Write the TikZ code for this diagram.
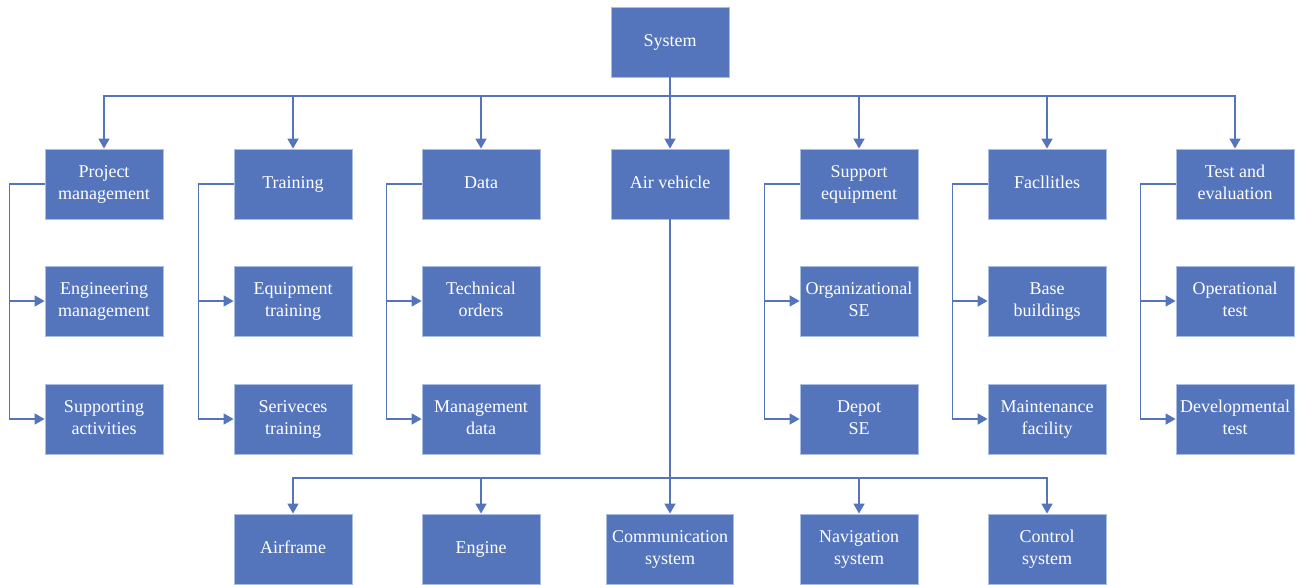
\documentclass[tikz,border=0pt]{standalone}
\usepackage{fontspec}
\setmainfont{Liberation Serif}
\usetikzlibrary{arrows.meta}
\definecolor{boxblue}{RGB}{84,117,187}
\definecolor{boxedge}{RGB}{170,190,225}
\newcommand\twolines[2]{\strut #1\\\strut #2}
\tikzset{
  wbox/.style={rectangle, fill=boxblue, draw=boxedge, line width=0.8pt,
    minimum width=118pt, minimum height=70pt, inner sep=1pt, text=white,
    font=\fontsize{18}{22}\selectfont, align=center},
  conn/.style={draw=boxblue, line width=1.6pt},
  arr/.style={conn, -{Triangle[length=10pt,width=11pt]}}
}
\begin{document}
\begin{tikzpicture}[x=1pt,y=-1pt]
\useasboundingbox (0,0) rectangle (1297,584);
\node[wbox] (sys) at (670,42) {\strut System};
% level 1
\node[wbox] (pm) at (104,184) {\twolines{Project}{management}};
\node[wbox] (tr) at (293,184) {\strut Training};
\node[wbox] (da) at (481,184) {\strut Data};
\node[wbox] (av) at (670,184) {\strut Air vehicle};
\node[wbox] (se) at (859,184) {\twolines{Support}{equipment}};
\node[wbox] (fa) at (1047,184) {\strut Facllitles};
\node[wbox] (te) at (1235,184) {\twolines{Test and}{evaluation}};
% level 2
\node[wbox] (em) at (104,301) {\twolines{Engineering}{management}};
\node[wbox] (et) at (293,301) {\twolines{Equipment}{training}};
\node[wbox] (to) at (481,301) {\twolines{Technical}{orders}};
\node[wbox] (ose) at (859,301) {\twolines{Organizational}{SE}};
\node[wbox] (bb) at (1047,301) {\twolines{Base}{buildings}};
\node[wbox] (ot) at (1235,301) {\twolines{Operational}{test}};
% level 3
\node[wbox] (sa) at (104,419) {\twolines{Supporting}{activities}};
\node[wbox] (st) at (293,419) {\twolines{Seriveces}{training}};
\node[wbox] (md) at (481,419) {\twolines{Management}{data}};
\node[wbox] (dse) at (859,419) {\twolines{Depot}{SE}};
\node[wbox] (mf) at (1047,419) {\twolines{Maintenance}{facility}};
\node[wbox] (dt) at (1235,419) {\twolines{Developmental}{test}};
% bottom row
\node[wbox] (af) at (293,549) {\strut Airframe};
\node[wbox] (en) at (481,549) {\strut Engine};
\node[wbox, minimum width=127pt] (cs) at (670,549) {\twolines{Communication}{system}};
\node[wbox] (ns) at (859,549) {\twolines{Navigation}{system}};
\node[wbox] (ct) at (1047,549) {\twolines{Control}{system}};
% top bus
\coordinate (tb) at (670,96);
\draw[conn] (sys.south) -- (tb);
\foreach \n in {pm,tr,da,av,se,fa,te}{
  \draw[arr] (tb) -| (\n.north);
}
% side branches
\foreach \p/\a/\b in {pm/em/sa, tr/et/st, da/to/md, se/ose/dse, fa/bb/mf, te/ot/dt}{
  \draw[arr] (\p.west) -- ++(-35,0) |- (\a.west);
  \draw[arr] (\p.west) -- ++(-35,0) |- (\b.west);
}
% bottom bus
\coordinate (bbus) at (670,478);
\draw[conn] (av.south) -- (bbus);
\foreach \n in {af,en,cs,ns,ct}{
  \draw[arr] (bbus) -| (\n.north);
}
\end{tikzpicture}
\end{document}
